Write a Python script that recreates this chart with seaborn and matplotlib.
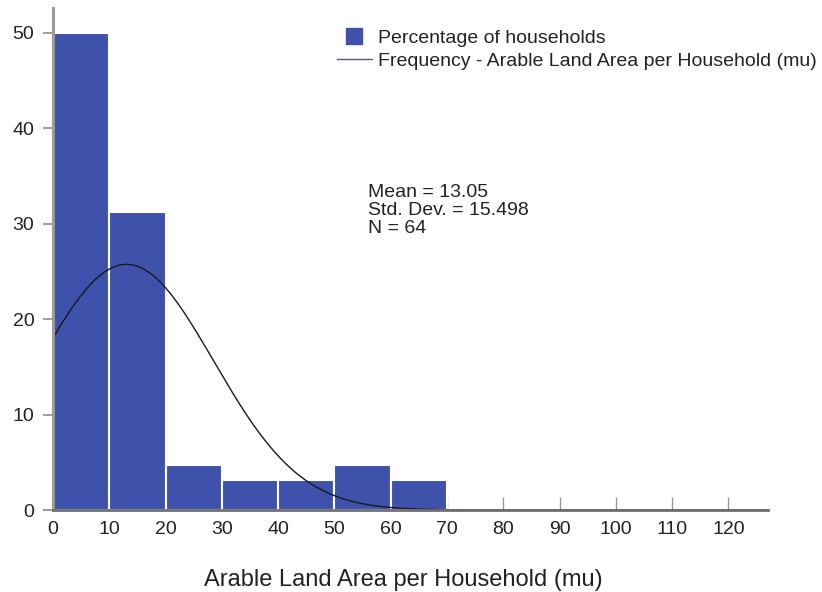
import numpy as np
import pandas as pd
import matplotlib
matplotlib.use("Agg")
import matplotlib.pyplot as plt
from matplotlib.lines import Line2D
import seaborn as sns

# Histogram of arable land per household (percent of households per 10-mu bin)
bin_edges = [0, 10, 20, 30, 40, 50, 60, 70]
bin_mids = [5, 15, 25, 35, 45, 55, 65]
percent_households = [50.0, 31.25, 4.6875, 3.125, 3.125, 4.6875, 3.125]

# Summary statistics of the sample
mean_mu = 13.05
std_mu = 15.498
n_households = 64
bin_width = 10

x_ticks = [0, 10, 20, 30, 40, 50, 60, 70, 80, 90, 100, 110, 120]
y_ticks = [0, 10, 20, 30, 40, 50]

sns.set_theme(style="white")
plt.rcParams["font.family"] = ["Liberation Sans", "DejaVu Sans"]

bar_color = "#3E52AC"
axis_color = "#8A8A8A"

fig = plt.figure(figsize=(8.22, 5.92), dpi=100)
ax = fig.add_axes([0.0645, 0.1385, 0.8695, 0.848])
ax.set_axisbelow(True)

hist_df = pd.DataFrame({"mid": bin_mids, "pct": percent_households})
sns.histplot(data=hist_df, x="mid", weights="pct", bins=bin_edges,
             color=bar_color, alpha=1.0, edgecolor="white", linewidth=1.5, ax=ax)

# Normal curve from the stated mean and standard deviation, scaled to percent per bin
xs = np.linspace(0, 127, 400)
curve = 100 * bin_width * np.exp(-0.5 * ((xs - mean_mu) / std_mu) ** 2) / (std_mu * np.sqrt(2 * np.pi))
sns.lineplot(x=xs, y=curve, color="#1a1a1a", linewidth=1.0, ax=ax)

ax.set_xlim(0, 127)
ax.set_ylim(0, 52.6)
ax.set_xticks(x_ticks)
ax.set_yticks(y_ticks)
ax.tick_params(axis="x", bottom=True, direction="in", length=9.5, width=1.0,
               color="#9a9a9a", labelsize=14, pad=8, labelcolor="#222222")
ax.tick_params(axis="y", left=True, direction="out", length=7.5, width=1.2,
               color=axis_color, labelsize=14, pad=6, labelcolor="#222222")
ax.set_xticklabels([str(t) for t in x_ticks])
ax.set_yticklabels([str(t) for t in y_ticks])

for side in ["top", "right"]:
    ax.spines[side].set_visible(False)
ax.spines["left"].set_color("#9a9a9a")
ax.spines["left"].set_linewidth(2.2)
ax.spines["bottom"].set_color("#707070")
ax.spines["bottom"].set_linewidth(2.0)

ax.set_xlabel("Arable Land Area per Household (mu)", fontsize=17, color="#222222")
ax.xaxis.set_label_coords(0.49, -0.118)
ax.set_ylabel("")

handles = [
    Line2D([0], [0], linestyle="none", marker="s", markersize=11,
           markerfacecolor=bar_color, markeredgecolor=bar_color,
           label="Percentage of households"),
    Line2D([0], [0], color="#555a78", linewidth=1.0,
           label="Frequency - Arable Land Area per Household (mu)"),
]
ax.legend(handles=handles, loc="upper left", bbox_to_anchor=(0.397, 0.957),
          frameon=False, fontsize=14, handlelength=1.8, handletextpad=0.3,
          labelspacing=0.28, borderpad=0, borderaxespad=0,
          labelcolor="#222222")

ax.text(0.4407, 0.649,
        f"Mean = {mean_mu:.2f}\nStd. Dev. = {std_mu:.3f}\nN = {n_households}",
        transform=ax.transAxes, fontsize=14, va="top", ha="left",
        linespacing=1.07, color="#222222")

fig.savefig("out.png", dpi=100)
